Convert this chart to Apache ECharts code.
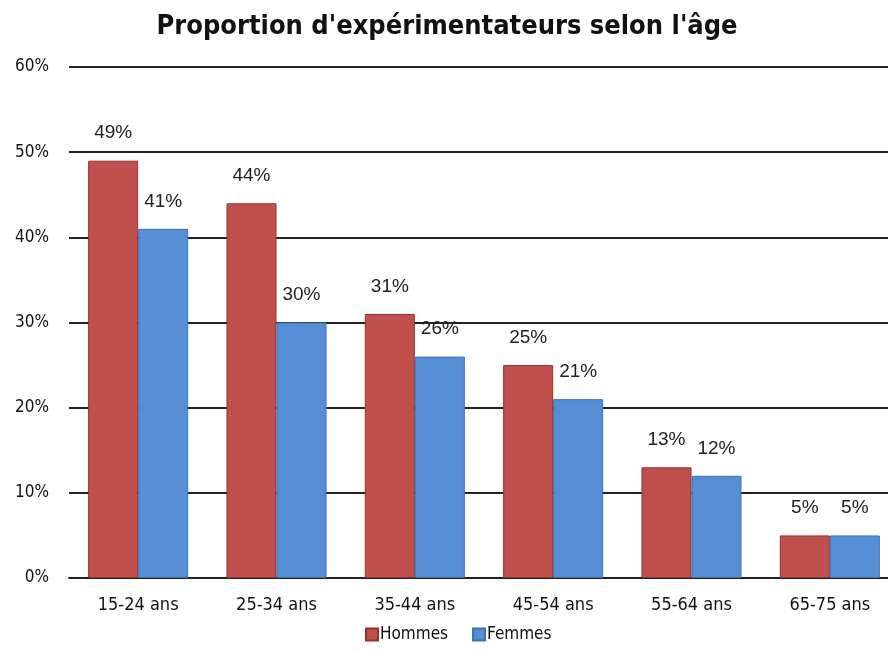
<!DOCTYPE html>
<html>
<head>
<meta charset="utf-8">
<script src="https://cdn.jsdelivr.net/npm/echarts@6/dist/echarts.min.js"></script>
<style>
  html, body { margin: 0; padding: 0; background: #fff; }
  #chart { width: 888px; height: 650px; }
</style>
</head>
<body>
<div id="chart"></div>
<script>
var categories = ['15-24 ans', '25-34 ans', '35-44 ans', '45-54 ans', '55-64 ans', '65-75 ans'];
var hommes = [49, 44, 31, 25, 13, 5];
var femmes = [41, 30, 26, 21, 12, 5];
var seriesNames = ['Hommes', 'Femmes'];

var narrow = '"DejaVu Sans Condensed", "Liberation Sans", Arial, sans-serif';
var labelFont = '"Liberation Sans", Arial, sans-serif';

function init() {
    var myChart = echarts.init(document.getElementById('chart'));

    var labelOpt = {
        show: true,
        position: 'top',
        distance: 18,
        formatter: '{c}%',
        color: '#222',
        fontSize: 19,
        fontFamily: labelFont
    };

    myChart.setOption({
        animation: false,
        title: {
            text: "Proportion d'expérimentateurs selon l'âge",
            left: 442,
            textAlign: 'center',
            top: 8,
            textStyle: {
                fontFamily: narrow,
                fontSize: 27,
                fontWeight: 'bold',
                color: '#111'
            }
        },
        legend: {
            data: seriesNames,
            bottom: 2,
            left: 360,
            itemWidth: 12,
            itemHeight: 12,
            itemGap: 24,
            icon: 'rect',
            textStyle: {
                fontFamily: narrow,
                fontSize: 17,
                color: '#111',
                padding: [0, 0, 0, -3]
            }
        },
        grid: {
            left: 69,
            width: 830,
            top: 67,
            bottom: 72,
            outerBoundsMode: 'none',
            containLabel: false
        },
        xAxis: {
            type: 'category',
            data: categories,
            axisTick: { show: false },
            axisLine: { show: true, lineStyle: { color: '#222', width: 2 } },
            axisLabel: {
                margin: 18,
                fontFamily: narrow,
                fontSize: 18,
                color: '#111'
            }
        },
        yAxis: {
            type: 'value',
            min: 0,
            max: 60,
            interval: 10,
            axisLine: { show: false },
            axisTick: { show: false },
            axisLabel: {
                formatter: '{value}%',
                margin: 20,
                fontFamily: narrow,
                fontSize: 17,
                color: '#111'
            },
            splitLine: { lineStyle: { color: '#222', width: 2 } }
        },
        series: [
            {
                name: seriesNames[0],
                type: 'bar',
                data: hommes,
                barGap: '0%',
                barCategoryGap: '27.7%',
                itemStyle: { color: '#C0504D', borderColor: '#9B2F2C', borderWidth: 1 },
                label: labelOpt
            },
            {
                name: seriesNames[1],
                type: 'bar',
                data: femmes,
                barGap: '0%',
                barCategoryGap: '27.7%',
                itemStyle: { color: '#558ED5', borderColor: '#3F72B5', borderWidth: 1 },
                label: labelOpt
            }
        ]
    });
}

document.addEventListener('DOMContentLoaded', function () {
    init();
});
</script>
</body>
</html>
